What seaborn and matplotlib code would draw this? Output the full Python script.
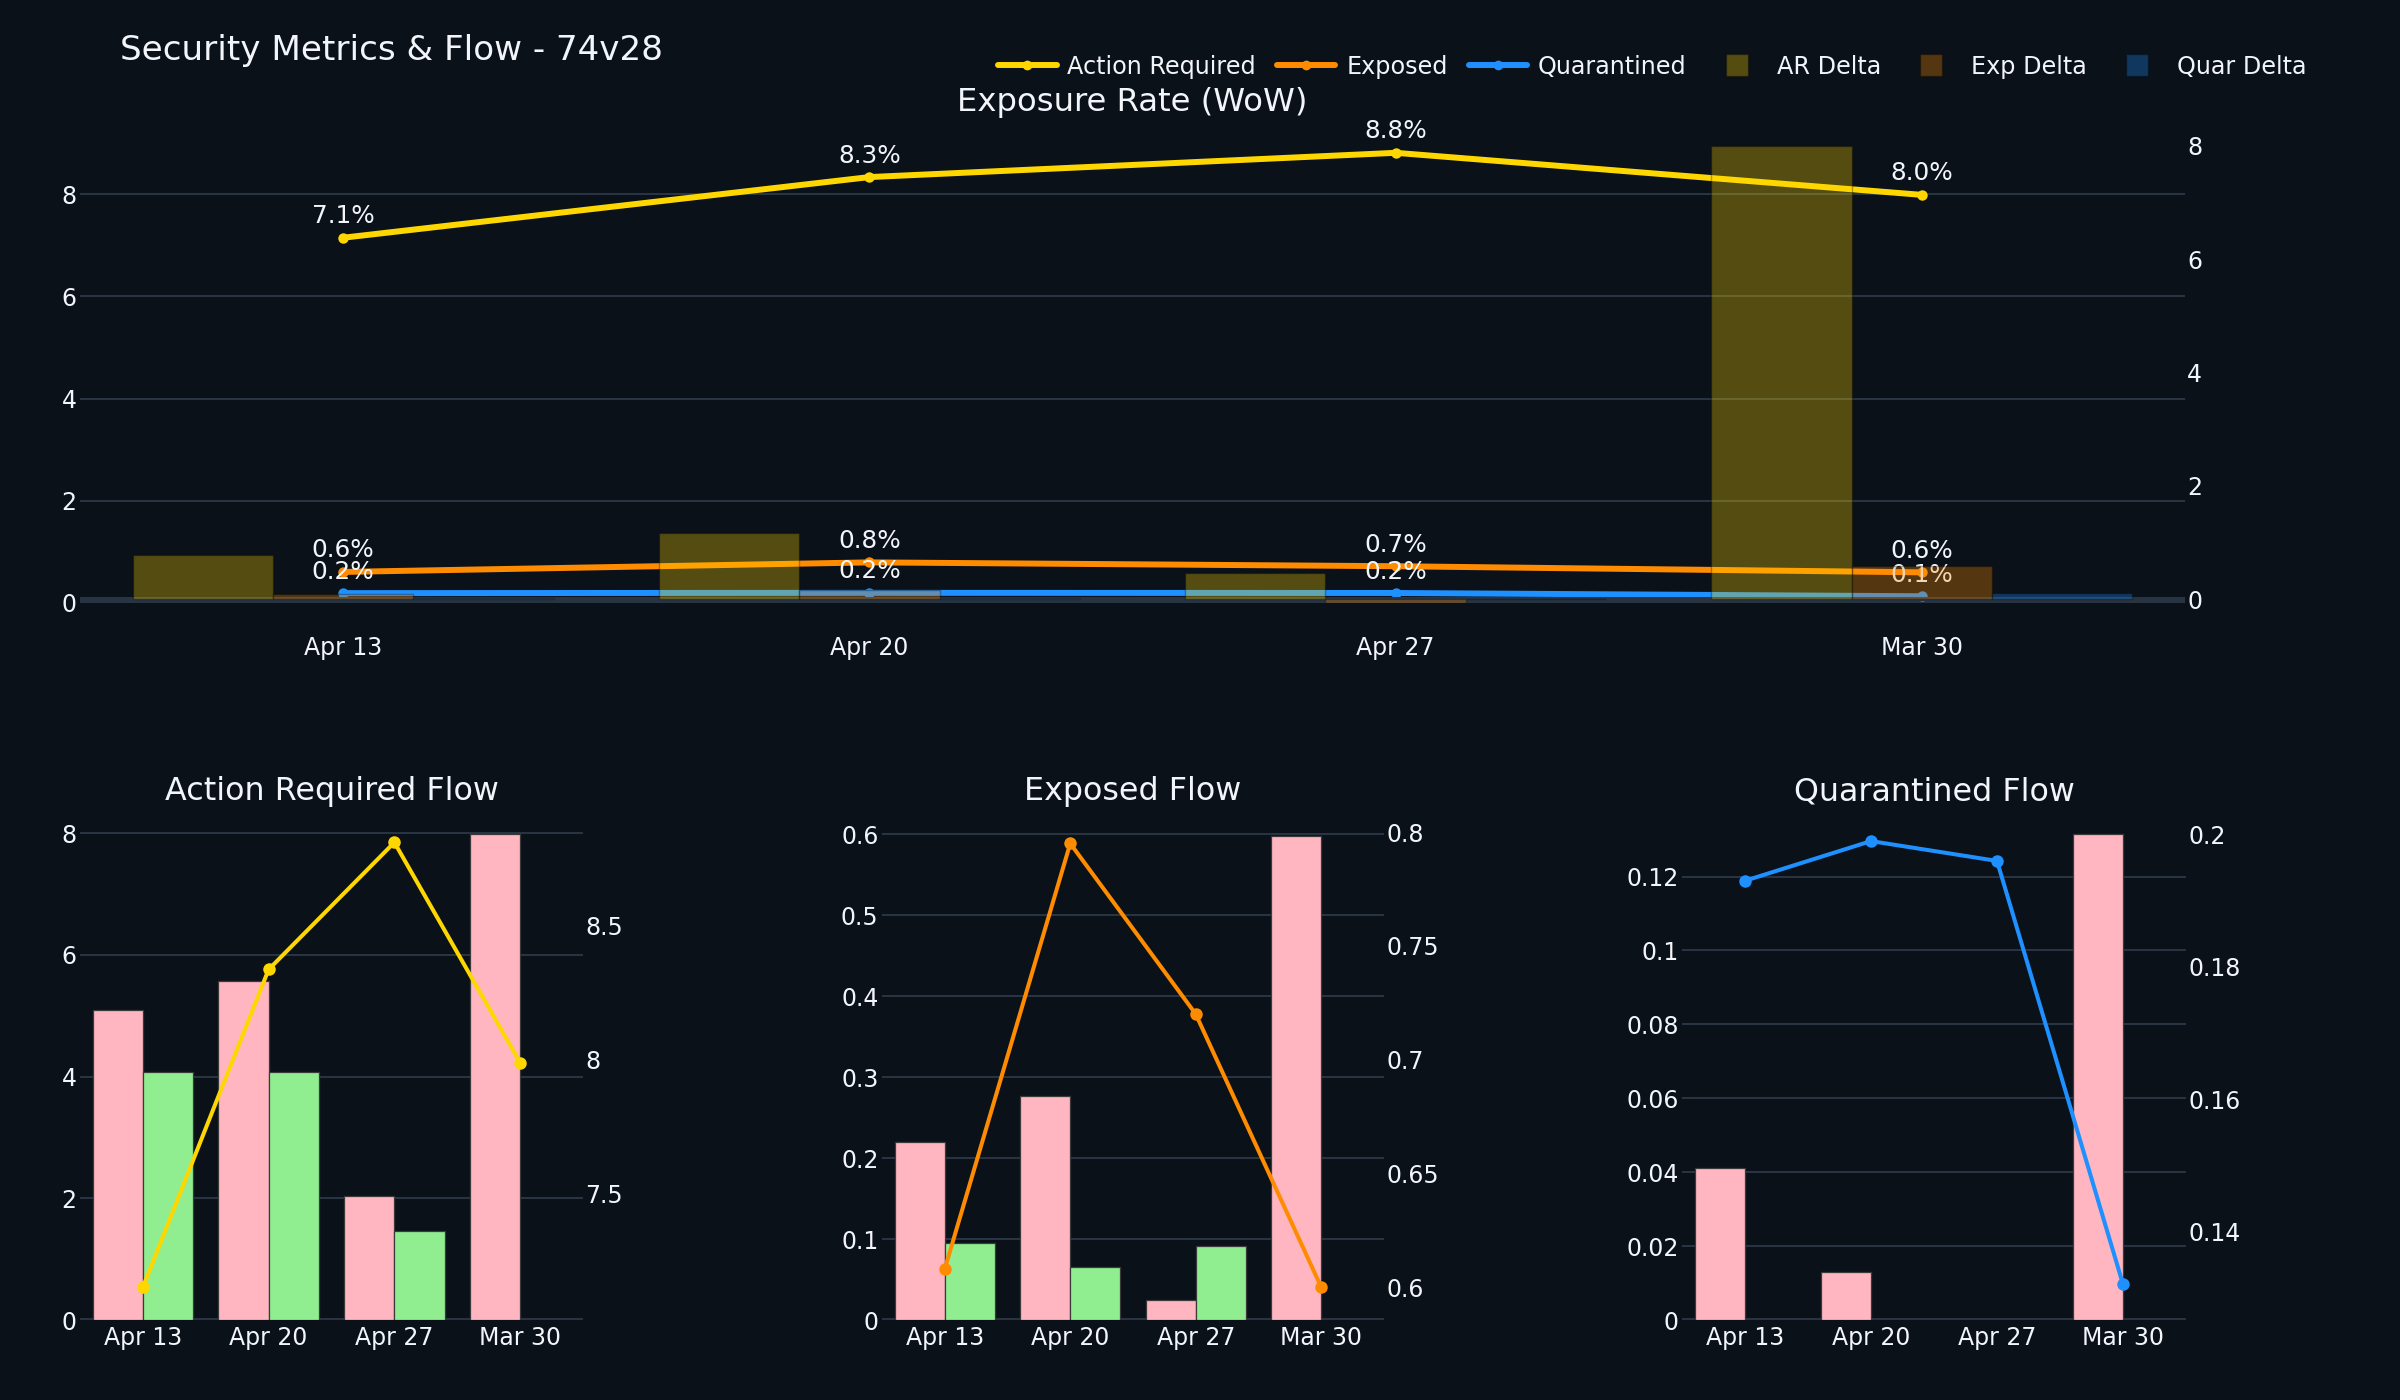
import numpy as np
import pandas as pd
import matplotlib
matplotlib.use("Agg")
import matplotlib.pyplot as plt
import seaborn as sns
from matplotlib.lines import Line2D
from matplotlib.ticker import FixedLocator, FuncFormatter
from matplotlib.colors import to_rgba

# ---------------- data ----------------
weeks = ["Apr 13", "Apr 20", "Apr 27", "Mar 30"]

ar_rate = [7.149, 8.336, 8.811, 7.988]
exp_rate = [0.608, 0.795, 0.720, 0.600]
quar_rate = [0.193, 0.199, 0.196, 0.132]

ar_delta = [0.78, 1.17, 0.46, 8.0]
exp_delta = [0.09, 0.17, -0.06, 0.59]
quar_delta = [0.02, 0.02, 0.01, 0.12]

ar_new = [5.10, 5.57, 2.03, 7.98]
ar_resolved = [4.08, 4.08, 1.46, 0.0]
exp_new = [0.220, 0.277, 0.025, 0.598]
exp_resolved = [0.095, 0.065, 0.091, 0.0]
quar_new = [0.041, 0.013, 0.0, 0.1315]
quar_resolved = [0.0, 0.0, 0.0, 0.0]

top_left_ticks = [0, 2, 4, 6, 8]
top_right_ticks = [0, 2, 4, 6, 8]
ar_left_ticks = [0, 2, 4, 6, 8]
ar_right_ticks = [7.5, 8, 8.5]
exp_left_ticks = [0, 0.1, 0.2, 0.3, 0.4, 0.5, 0.6]
exp_right_ticks = [0.6, 0.65, 0.7, 0.75, 0.8]
quar_left_ticks = [0, 0.02, 0.04, 0.06, 0.08, 0.1, 0.12]
quar_right_ticks = [0.14, 0.16, 0.18, 0.2]

# ---------------- style ----------------
BG = "#0b1119"
GRID = "#283442"
TXT = "#f2f5fa"
GOLD = "#FFD700"
ORANGE = "#FF8C00"
BLUE = "#1E90FF"
PINK = "#FFB6C1"
GREEN = "#90EE90"

sns.set_style("dark")
plt.rcParams["font.family"] = ["DejaVu Sans"]
plt.rcParams["text.color"] = TXT

W, H = 2400, 1400
fig = plt.figure(figsize=(24, 14), dpi=100, facecolor=BG)


def px_axes(l, t, r, b):
    return fig.add_axes([l / W, 1 - b / H, (r - l) / W, (b - t) / H])


fmt = FuncFormatter(lambda v, _: f"{v:.6g}")


def style(ax, grid, ticks, ypad=2.5, xpad=4.0):
    for s in ax.spines.values():
        s.set_visible(False)
    ax.set_xlabel("")
    ax.set_ylabel("")
    ax.tick_params(axis="both", length=0, colors=TXT, labelsize=17)
    ax.tick_params(axis="y", pad=ypad)
    ax.tick_params(axis="x", pad=xpad)
    ax.yaxis.set_major_locator(FixedLocator(ticks))
    ax.yaxis.set_major_formatter(fmt)
    ax.xaxis.grid(False)
    if grid:
        ax.yaxis.grid(True, color=GRID, linewidth=1.44)
        ax.set_axisbelow(True)
    else:
        ax.yaxis.grid(False)


xpos = np.arange(len(weeks))

# ---------------- top chart ----------------
ax = px_axes(80, 121.7, 2185, 603)
ax.set_facecolor(BG)
for vals, col in [(ar_rate, GOLD), (exp_rate, ORANGE), (quar_rate, BLUE)]:
    sns.lineplot(x=xpos, y=vals, ax=ax, color=col, linewidth=4.3, marker="o",
                 markersize=7.5, markeredgewidth=0, zorder=3)
    for i, v in enumerate(vals):
        ax.annotate(f"{v:.1f}%", (xpos[i], v), xytext=(0, 10.4), textcoords="offset points",
                    ha="center", va="baseline", fontsize=17.8, color=TXT, zorder=4)
ax.axhline(0, color=GRID, linewidth=2.9, zorder=1.5)

ax2 = ax.twinx()
df_delta = pd.DataFrame({
    "week": weeks * 3,
    "value": ar_delta + exp_delta + quar_delta,
    "series": ["AR Delta"] * 4 + ["Exp Delta"] * 4 + ["Quar Delta"] * 4,
})
ax2.axhline(0, color=GRID, linewidth=2.9, zorder=0.5)
sns.barplot(data=df_delta, x="week", y="value", hue="series", palette=[GOLD, ORANGE, BLUE],
            ax=ax2, width=0.8, saturation=1, errorbar=None, legend=False, alpha=0.3,
            edgecolor="#000000", linewidth=1.0)
ax.set_xlim(-0.5, len(weeks) - 0.5)
ax.set_ylim(0, 9.42)
ax2.set_ylim(-0.063, 8.42)
style(ax, True, top_left_ticks, ypad=2.5, xpad=23.5)
style(ax2, False, top_right_ticks, ypad=1.5)
ax.set_xticks(xpos)
ax.set_xticklabels(weeks)

# ---------------- bottom charts ----------------
bottom_specs = [
    ((80, 810, 583, 1320), ar_new, ar_resolved, ar_rate, GOLD,
     (0, 8.38), (7.026, 8.932), ar_left_ticks, ar_right_ticks),
    ((882, 810, 1384, 1320), exp_new, exp_resolved, exp_rate, ORANGE,
     (0, 0.63), (0.5856, 0.8097), exp_left_ticks, exp_right_ticks),
    ((1682, 810, 2186, 1320), quar_new, quar_resolved, quar_rate, BLUE,
     (0, 0.138), (0.1266, 0.2037), quar_left_ticks, quar_right_ticks),
]

for (box, new, res, rate, col, ylim_l, ylim_r, lt, rt) in bottom_specs:
    bx = px_axes(*box)
    bx.set_facecolor(BG)
    df = pd.DataFrame({
        "week": weeks * 2,
        "count": new + res,
        "kind": ["New"] * 4 + ["Resolved"] * 4,
    })
    sns.barplot(data=df, x="week", y="count", hue="kind", palette=[PINK, GREEN], ax=bx,
                width=0.8, saturation=1, errorbar=None, legend=False,
                edgecolor="#3a3a3a", linewidth=0.9)
    bx.axhline(0, color=GRID, linewidth=2.9, zorder=0.8)
    bx.set_xlim(-0.5, len(weeks) - 0.5)
    bx.set_ylim(*ylim_l)
    style(bx, True, lt, ypad=2.5, xpad=4.0)
    bx.set_xticks(xpos)
    bx.set_xticklabels(weeks)

    bx2 = bx.twinx()
    sns.lineplot(x=xpos, y=rate, ax=bx2, color=col, linewidth=2.9, marker="o",
                 markersize=9, markeredgewidth=0)
    bx2.set_ylim(*ylim_r)
    style(bx2, False, rt, ypad=1.5)

# ---------------- titles ----------------
def ftext(x, y, s, **kw):
    fig.text(x / W, 1 - y / H, s, color=TXT, **kw)


ftext(120, 60, "Security Metrics & Flow - 74v28", fontsize=24.6, ha="left", va="baseline")
ftext(1132.5, 111, "Exposure Rate (WoW)", fontsize=23.2, ha="center", va="baseline")
ftext(331.5, 800, "Action Required Flow", fontsize=22.9, ha="center", va="baseline")
ftext(1133, 800, "Exposed Flow", fontsize=22.9, ha="center", va="baseline")
ftext(1934, 800, "Quarantined Flow", fontsize=22.9, ha="center", va="baseline")

# ---------------- legend ----------------
handles = [
    Line2D([0], [0], color=GOLD, linewidth=4.3, marker="o", markersize=7, markeredgewidth=0),
    Line2D([0], [0], color=ORANGE, linewidth=4.3, marker="o", markersize=7, markeredgewidth=0),
    Line2D([0], [0], color=BLUE, linewidth=4.3, marker="o", markersize=7, markeredgewidth=0),
    Line2D([0], [0], linestyle="none", marker="s", markersize=16.2,
           markerfacecolor=to_rgba(GOLD, 0.3), markeredgecolor=to_rgba("#000000", 0.3)),
    Line2D([0], [0], linestyle="none", marker="s", markersize=16.2,
           markerfacecolor=to_rgba(ORANGE, 0.3), markeredgecolor=to_rgba("#000000", 0.3)),
    Line2D([0], [0], linestyle="none", marker="s", markersize=16.2,
           markerfacecolor=to_rgba(BLUE, 0.3), markeredgecolor=to_rgba("#000000", 0.3)),
]
labels = ["Action Required", "Exposed", "Quarantined", "AR Delta", "Exp Delta", "Quar Delta"]
fig.legend(handles, labels, loc="center left", bbox_to_anchor=(998 / W, 1 - 66.7 / H),
           ncol=6, frameon=False, fontsize=17.2, handlelength=2.45, handletextpad=0.45,
           columnspacing=0.88, borderpad=0, borderaxespad=0, labelcolor=TXT)

fig.savefig("out.png", dpi=100, facecolor=BG)
